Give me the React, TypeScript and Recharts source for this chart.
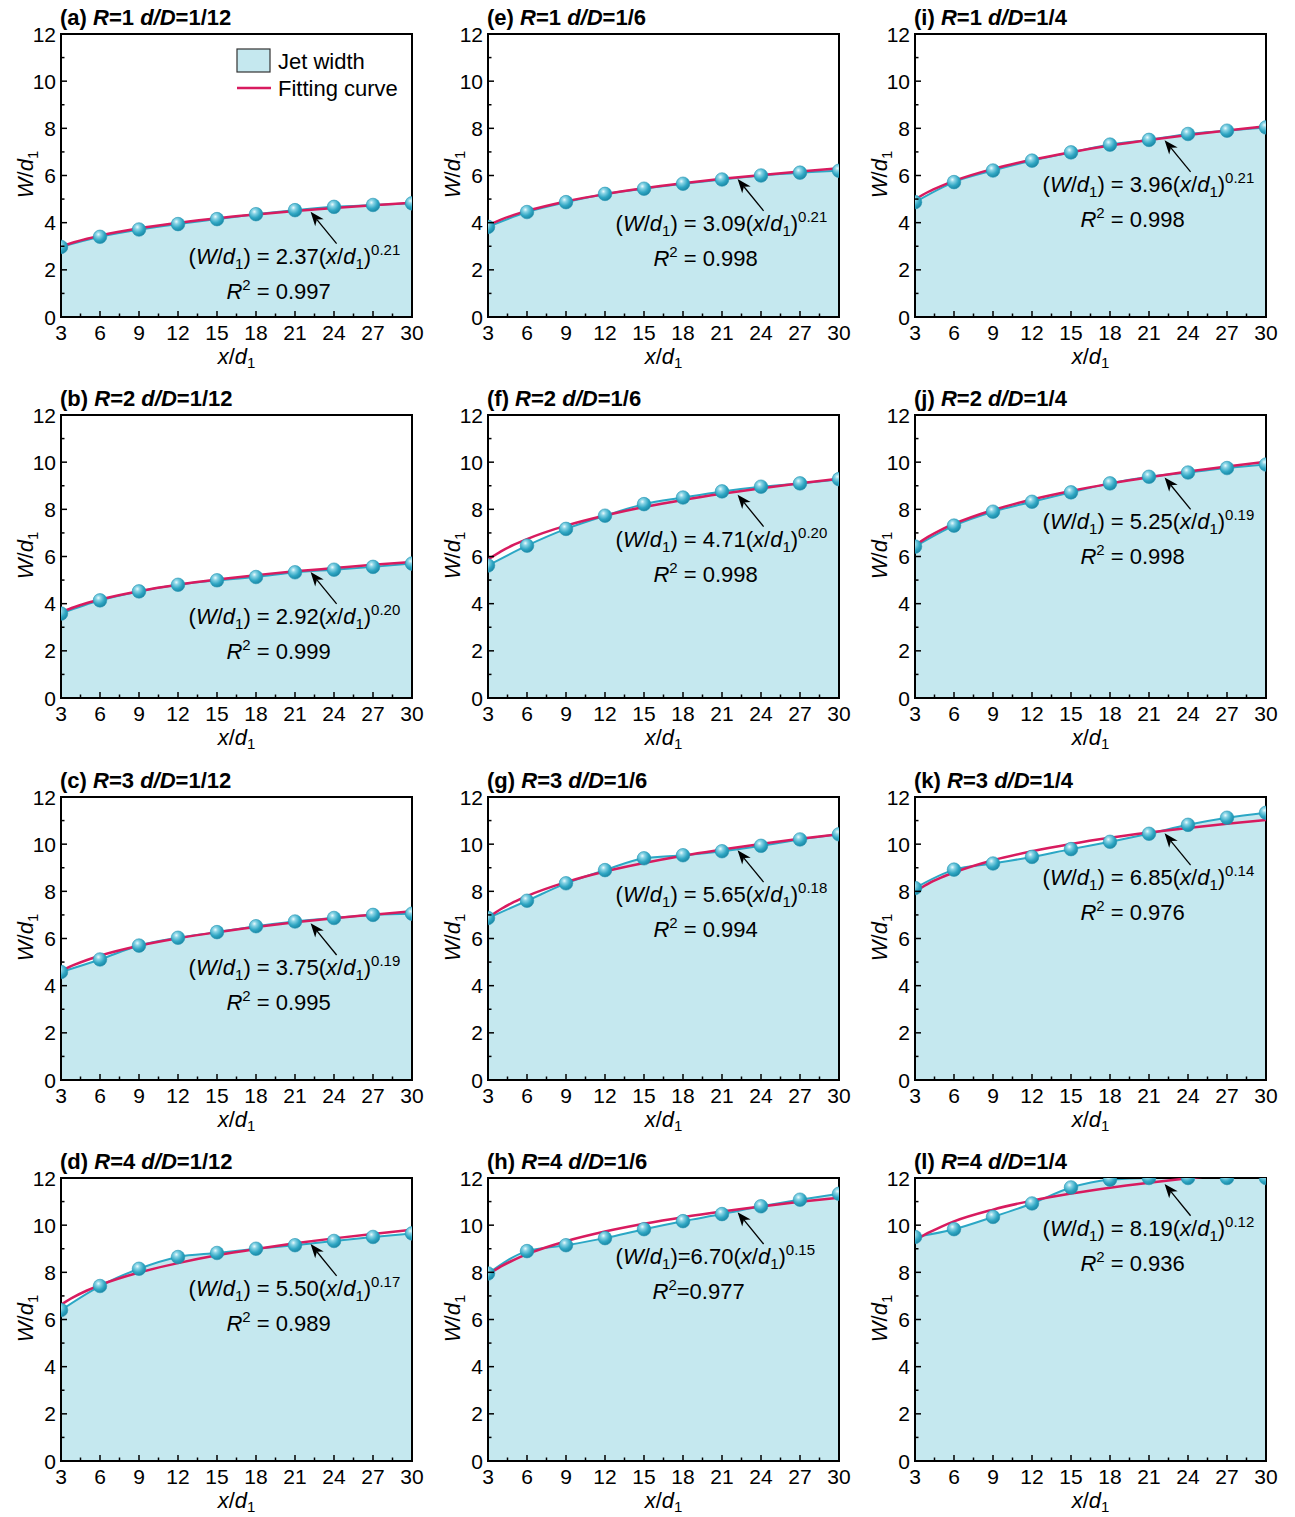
import React from "react";
import {
  ComposedChart,
  Area,
  Line,
  XAxis,
  YAxis,
  ReferenceArea,
  ReferenceLine,
} from "recharts";

// x/d1 stations where jet width was measured
const xValues = [3, 6, 9, 12, 15, 18, 21, 24, 27, 30];
// x positions at which the fitting curve is sampled
const fitX = [3, 4, 5, 6, 9, 12, 15, 18, 21, 24, 27, 30];

const xTicks = [3, 4.5, 6, 7.5, 9, 10.5, 12, 13.5, 15, 16.5, 18, 19.5, 21, 22.5, 24, 25.5, 27, 28.5, 30];
const yTicks = [0, 1, 2, 3, 4, 5, 6, 7, 8, 9, 10, 11, 12];

// measured jet width W/d1
const widthA = [2.97, 3.4, 3.71, 3.94, 4.15, 4.36, 4.53, 4.67, 4.75, 4.82];
const widthB = [3.58, 4.14, 4.52, 4.8, 4.99, 5.13, 5.33, 5.44, 5.56, 5.7];
const widthC = [4.58, 5.11, 5.7, 6.03, 6.27, 6.52, 6.72, 6.87, 7.0, 7.05];
const widthD = [6.4, 7.42, 8.15, 8.65, 8.82, 9.0, 9.15, 9.33, 9.5, 9.65];
const widthE = [3.82, 4.45, 4.87, 5.22, 5.44, 5.65, 5.83, 6.0, 6.12, 6.2];
const widthF = [5.62, 6.46, 7.17, 7.73, 8.22, 8.5, 8.76, 8.96, 9.1, 9.28];
const widthG = [6.87, 7.6, 8.34, 8.9, 9.4, 9.53, 9.7, 9.93, 10.2, 10.42];
const widthH = [7.95, 8.9, 9.15, 9.45, 9.83, 10.17, 10.47, 10.8, 11.08, 11.33];
const widthI = [4.87, 5.72, 6.21, 6.63, 6.98, 7.31, 7.51, 7.76, 7.9, 8.04];
const widthJ = [6.42, 7.31, 7.9, 8.32, 8.72, 9.1, 9.38, 9.56, 9.75, 9.9];
const widthK = [8.14, 8.92, 9.18, 9.46, 9.79, 10.1, 10.44, 10.82, 11.12, 11.33];
const widthL = [9.5, 9.83, 10.35, 10.92, 11.6, 11.93, 12.0, 12.0, 12.0, 12.0];

// fitting curve values read at fitX
const fitA = [2.99, 3.17, 3.32, 3.45, 3.76, 3.99, 4.19, 4.35, 4.49, 4.62, 4.74, 4.84];
const fitB = [3.64, 3.85, 4.03, 4.18, 4.53, 4.8, 5.02, 5.21, 5.37, 5.51, 5.65, 5.77];
const fitC = [4.62, 4.88, 5.09, 5.27, 5.69, 6.01, 6.27, 6.49, 6.69, 6.86, 7.01, 7.16];
const fitD = [6.63, 6.96, 7.23, 7.46, 7.99, 8.39, 8.72, 8.99, 9.23, 9.44, 9.63, 9.81];
const fitE = [3.89, 4.13, 4.33, 4.5, 4.9, 5.21, 5.46, 5.67, 5.86, 6.02, 6.17, 6.31];
const fitF = [5.87, 6.22, 6.5, 6.74, 7.31, 7.74, 8.1, 8.4, 8.66, 8.89, 9.11, 9.3];
const fitG = [6.89, 7.25, 7.55, 7.8, 8.39, 8.84, 9.2, 9.51, 9.77, 10.01, 10.23, 10.42];
const fitH = [7.9, 8.25, 8.53, 8.77, 9.32, 9.73, 10.06, 10.34, 10.58, 10.79, 10.99, 11.16];
const fitI = [4.99, 5.3, 5.55, 5.77, 6.28, 6.67, 6.99, 7.27, 7.51, 7.72, 7.91, 8.09];
const fitJ = [6.47, 6.83, 7.13, 7.38, 7.97, 8.42, 8.78, 9.09, 9.36, 9.6, 9.82, 10.02];
const fitK = [7.99, 8.32, 8.58, 8.8, 9.32, 9.7, 10.01, 10.27, 10.49, 10.69, 10.87, 11.03];
const fitL = [9.34, 9.67, 9.93, 10.16, 10.66, 11.04, 11.34, 11.59, 11.8, 11.99, 12.16, 12.32];

const panels = [
  { tag: "a", R: 1, dD: "1/12", w: widthA, fit: fitA, coef: "2.37", exp: "0.21", r2: "0.997", head: 4.46, col: 0, row: 0 },
  { tag: "b", R: 2, dD: "1/12", w: widthB, fit: fitB, coef: "2.92", exp: "0.20", r2: "0.999", head: 5.34, col: 0, row: 1 },
  { tag: "c", R: 3, dD: "1/12", w: widthC, fit: fitC, coef: "3.75", exp: "0.19", r2: "0.995", head: 6.65, col: 0, row: 2 },
  { tag: "d", R: 4, dD: "1/12", w: widthD, fit: fitD, coef: "5.50", exp: "0.17", r2: "0.989", head: 9.2, col: 0, row: 3 },
  { tag: "e", R: 1, dD: "1/6", w: widthE, fit: fitE, coef: "3.09", exp: "0.21", r2: "0.998", head: 5.85, col: 1, row: 0 },
  { tag: "f", R: 2, dD: "1/6", w: widthF, fit: fitF, coef: "4.71", exp: "0.20", r2: "0.998", head: 8.62, col: 1, row: 1 },
  { tag: "g", R: 3, dD: "1/6", w: widthG, fit: fitG, coef: "5.65", exp: "0.18", r2: "0.994", head: 9.74, col: 1, row: 2 },
  { tag: "h", R: 4, dD: "1/6", w: widthH, fit: fitH, coef: "6.70", exp: "0.15", r2: "0.977", head: 10.55, col: 1, row: 3, compact: true },
  { tag: "i", R: 1, dD: "1/4", w: widthI, fit: fitI, coef: "3.96", exp: "0.21", r2: "0.998", head: 7.5, col: 2, row: 0 },
  { tag: "j", R: 2, dD: "1/4", w: widthJ, fit: fitJ, coef: "5.25", exp: "0.19", r2: "0.998", head: 9.35, col: 2, row: 1 },
  { tag: "k", R: 3, dD: "1/4", w: widthK, fit: fitK, coef: "6.85", exp: "0.14", r2: "0.976", head: 10.46, col: 2, row: 2 },
  { tag: "l", R: 4, dD: "1/4", w: widthL, fit: fitL, coef: "8.19", exp: "0.12", r2: "0.936", head: 11.75, col: 2, row: 3 },
];

const FILL = "#c5e8ef";
const TEAL = "#2ba7c5";
const FIT = "#d81b5f";

const CW = 427;
const CH = 373;
const COL_LEFT = [0, 427, 854];
const ROW_TOP = [0, 381, 763, 1144];
const PL = 61; // plot left inside a panel
const PT = 34;
const PH = 283;
const PB = PT + PH;
const PW = 351;

const XTick = (props: any) => {
  const { x, payload } = props;
  const v = payload.value;
  const major = v % 3 === 0;
  return (
    <g>
      <line x1={x} x2={x} y1={PB} y2={PB - (major ? 6 : 3.5)} stroke="#000" strokeWidth={1.5} />
      {major && (
        <text x={x} y={PB + 23} textAnchor="middle" fontSize={21} fill="#000">
          {v}
        </text>
      )}
    </g>
  );
};

const YTick = (props: any) => {
  const { y, payload } = props;
  const v = payload.value;
  const major = v % 2 === 0;
  return (
    <g>
      <line x1={PL} x2={PL + (major ? 6 : 3.5)} y1={y} y2={y} stroke="#000" strokeWidth={1.5} />
      {major && (
        <text x={PL - 5} y={y} dy="0.36em" textAnchor="end" fontSize={21} fill="#000">
          {v}
        </text>
      )}
    </g>
  );
};

const renderDot = (props: any) => (
  <circle
    key={`dot-${props.index}`}
    cx={props.cx}
    cy={props.cy}
    r={6.8}
    fill="url(#sphere)"
    stroke="#2596b4"
    strokeWidth={0.6}
  />
);

function makeNote(p: any) {
  return (props: any) => {
    const { x1, y1, x2, y2 } = props;
    const dx = x2 - x1;
    const dy = y2 - y1;
    const len = Math.sqrt(dx * dx + dy * dy);
    const ux = dx / len;
    const uy = dy / len;
    const hl = 14;
    const hw = 5.5;
    const bx = x2 - ux * hl;
    const by = y2 - uy * hl;
    const sp = p.compact ? "" : " ";
    return (
      <g>
        <line x1={x1} y1={y1} x2={bx + ux * 4} y2={by + uy * 4} stroke="#000" strokeWidth={1.3} />
        <polygon
          points={`${x2},${y2} ${bx - uy * hw},${by + ux * hw} ${bx + ux * 4},${by + uy * 4} ${bx + uy * hw},${by - ux * hw}`}
          fill="#000"
        />
        <text x={x1 - 148} y={y1 + 20} fontSize={22} fill="#000">
          (<tspan fontStyle="italic">W</tspan>/<tspan fontStyle="italic">d</tspan><tspan dy={5} fontSize={15}>1</tspan><tspan dy={-5}>){sp}={sp}{p.coef}(</tspan><tspan fontStyle="italic">x</tspan>/<tspan fontStyle="italic">d</tspan><tspan dy={5} fontSize={15}>1</tspan><tspan dy={-5}>)</tspan><tspan dy={-9} fontSize={15}>{p.exp}</tspan>
        </text>
        <text x={x1 - (p.compact ? 65 : 58)} y={y1 + 55} fontSize={22} fill="#000" textAnchor="middle">
          <tspan fontStyle="italic">R</tspan><tspan dy={-9} fontSize={15}>2</tspan><tspan dy={9}>{sp}={sp}{p.r2}</tspan>
        </text>
      </g>
    );
  };
}

function Panel({ p }: { p: any }) {
  const data = xValues.map((x, i) => ({ x, w: p.w[i] }));
  const fitData = fitX.map((x, i) => ({ x, y: p.fit[i] }));
  return (
    <div
      style={{
        position: "absolute",
        left: COL_LEFT[p.col],
        top: ROW_TOP[p.row],
        width: CW,
        height: CH,
      }}
    >
      <ComposedChart
        width={CW}
        height={CH}
        data={data}
        margin={{ top: PT, right: CW - PL - PW, bottom: CH - PB - 40, left: PL - 50 }}
      >
        <Area
          dataKey="w"
          type="monotone"
          stroke={TEAL}
          strokeWidth={2}
          fill={FILL}
          fillOpacity={1}
          dot={renderDot}
          activeDot={false}
          isAnimationActive={false}
        />
        <Line
          data={fitData}
          dataKey="y"
          type="monotone"
          stroke={FIT}
          strokeWidth={2.5}
          dot={false}
          activeDot={false}
          isAnimationActive={false}
        />
        <XAxis
          type="number"
          dataKey="x"
          domain={[3, 30]}
          ticks={xTicks}
          interval={0}
          allowDataOverflow
          axisLine={false}
          tickLine={false}
          tick={(t: any) => <XTick {...t} />}
          height={40}
        />
        <YAxis
          type="number"
          domain={[0, 12]}
          ticks={yTicks}
          interval={0}
          allowDataOverflow
          axisLine={false}
          tickLine={false}
          tick={(t: any) => <YTick {...t} />}
          width={50}
        />
        <ReferenceLine
          segment={[
            { x: 24.2, y: p.head - 1.35 },
            { x: 22.2, y: p.head },
          ]}
          shape={makeNote(p)}
        />
        <ReferenceArea x1={3} x2={30} y1={0} y2={12} fill="none" fillOpacity={0} stroke="#000" strokeWidth={2} />
      </ComposedChart>
      <svg
        width={CW}
        height={CH}
        style={{ position: "absolute", left: 0, top: 0, pointerEvents: "none" }}
      >
        <text x={60} y={25} fontSize={22} fontWeight="bold" fill="#000">
          ({p.tag}) <tspan fontStyle="italic">R</tspan>={p.R} <tspan fontStyle="italic">d/D</tspan>={p.dD}
        </text>
        <text x={PL + PW / 2} y={364} fontSize={22} fill="#000" textAnchor="middle">
          <tspan fontStyle="italic">x</tspan>/<tspan fontStyle="italic">d</tspan><tspan dy={4} fontSize={15}>1</tspan>
        </text>
        <text
          x={0}
          y={0}
          fontSize={22}
          fill="#000"
          textAnchor="middle"
          transform={`translate(33, ${PT + PH / 2 - 1}) rotate(-90)`}
        >
          <tspan fontStyle="italic">W</tspan>/<tspan fontStyle="italic">d</tspan><tspan dy={5} fontSize={15}>1</tspan>
        </text>
        {p.tag === "a" && (
          <g>
            <rect x={237} y={49} width={33} height={23} fill={FILL} stroke="#333" strokeWidth={1.2} />
            <text x={278} y={69} fontSize={22} fill="#000">
              Jet width
            </text>
            <line x1={237} x2={271} y1={88} y2={88} stroke={FIT} strokeWidth={2.5} />
            <text x={278} y={96} fontSize={22} fill="#000">
              Fitting curve
            </text>
          </g>
        )}
      </svg>
    </div>
  );
}

export default function App() {
  return (
    <div
      style={{
        position: "absolute",
        left: 0,
        top: 0,
        width: 1295,
        height: 1517,
        background: "#fff",
        fontFamily: "'Liberation Sans', Arial, sans-serif",
      }}
    >
      <svg width={0} height={0} style={{ position: "absolute" }}>
        <defs>
          <radialGradient id="sphere" cx="38%" cy="32%" r="70%">
            <stop offset="0%" stopColor="#eafafd" />
            <stop offset="25%" stopColor="#86d3e5" />
            <stop offset="65%" stopColor="#2fa6c3" />
            <stop offset="100%" stopColor="#1a86a3" />
          </radialGradient>
        </defs>
      </svg>
      {panels.map((p) => (
        <Panel key={p.tag} p={p} />
      ))}
    </div>
  );
}
